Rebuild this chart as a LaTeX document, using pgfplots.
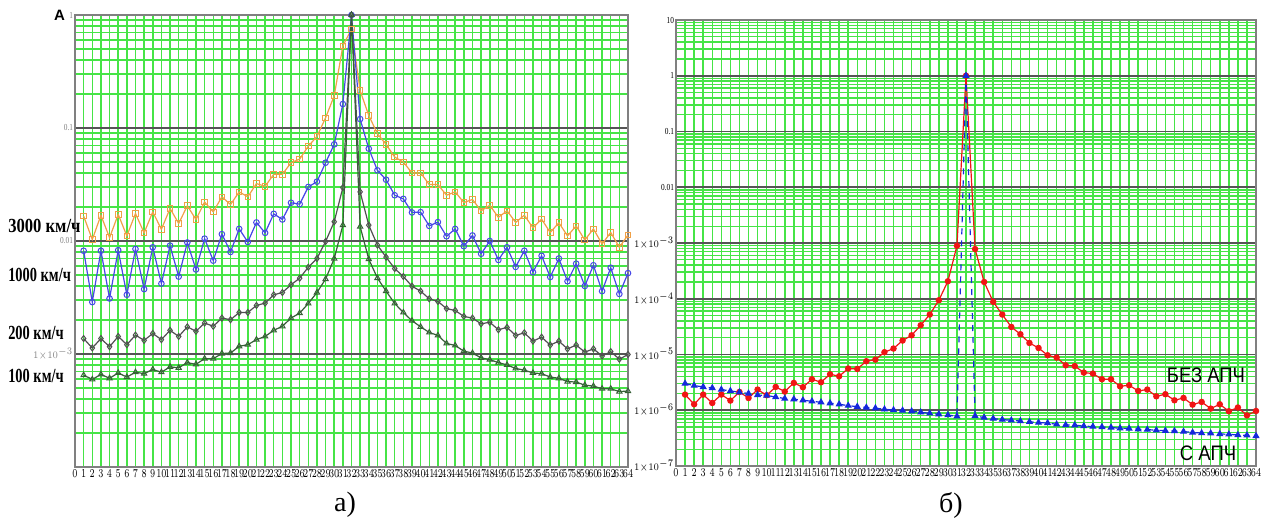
\documentclass[border=0pt]{standalone}
\usepackage{fontspec}
\setmainfont{Liberation Serif}
\newfontfamily\sansf{Liberation Sans}
\usepackage{pgfplots}
\pgfplotsset{compat=1.18}
\definecolor{gridgreen}{RGB}{70,228,70}
\definecolor{majgray}{RGB}{85,85,85}
\definecolor{orangeS}{RGB}{240,160,70}
\definecolor{blueS}{RGB}{70,70,230}
\definecolor{grayS}{RGB}{80,80,80}
\definecolor{greenS}{RGB}{55,95,55}
\definecolor{redS}{RGB}{240,20,20}
\definecolor{blueT}{RGB}{20,40,220}
\begin{document}
\begin{tikzpicture}
\useasboundingbox (0,0) rectangle (633.5pt,262pt);
% ---------- left chart ----------
\begin{axis}[
  scale only axis,
  ymode=log,
  xmin=0, xmax=64,
  xtick={0,...,64},
  grid=both,
  major x grid style={gridgreen, line width=0.75pt},
  minor y grid style={gridgreen, line width=0.7pt},
  major y grid style={majgray, line width=0.9pt},
  axis line style={gray, line width=0.6pt},
  tick style={draw=none},
  x tick label style={font=\fontsize{5.6}{6}\selectfont, xscale=0.7, inner sep=1pt},
  y tick label style={font=\fontsize{4.6}{5}\selectfont, xscale=0.8, inner sep=1pt, text=gray},
  at={(37.5pt,28.5pt)}, anchor=south west,
  width=276.5pt, height=226pt,
  ymin=1e-4, ymax=1,
  ytick={1e-4,1e-3,1e-2,1e-1,1},
  yticklabels={{},{$1{\times}10^{-3}$},{0.01},{0.1},{1}},
]
\addplot[orangeS, line width=0.6pt, mark=square, mark size=1.4pt, mark options={solid, line width=0.5pt}] coordinates {
(1,0.0166)(2,0.0103)(3,0.0169)(4,0.0107)(5,0.0172)(6,0.0111)(7,0.0175)(8,0.0118)(9,0.0181)(10,0.0127)
(11,0.0194)(12,0.0143)(13,0.0205)(14,0.0155)(15,0.0221)(16,0.0181)(17,0.0246)(18,0.0210)(19,0.0272)(20,0.0246)
(21,0.0322)(22,0.0305)(23,0.0389)(24,0.0389)(25,0.0493)(26,0.0531)(27,0.0691)(28,0.0841)(29,0.123)(30,0.193)
(31,0.533)(32,0.75)(33,0.214)(34,0.129)(35,0.089)(36,0.0716)(37,0.0553)(38,0.050)(39,0.040)(40,0.040)
(41,0.0316)(42,0.0316)(43,0.0254)(44,0.0272)(45,0.0219)(46,0.0233)(47,0.0185)(48,0.0207)(49,0.0162)(50,0.0185)
(51,0.0146)(52,0.0169)(53,0.0131)(54,0.0156)(55,0.0119)(56,0.0145)(57,0.0111)(58,0.0136)(59,0.0102)(60,0.0128)
(61,0.0094)(62,0.0119)(63,0.0088)(64,0.0113)};
\addplot[blueS, line width=0.6pt, mark=o, mark size=1.4pt, mark options={solid, line width=0.5pt}] coordinates {
(1,0.0082)(2,0.00288)(3,0.0082)(4,0.0031)(5,0.0083)(6,0.00334)(7,0.0085)(8,0.00375)(9,0.0088)(10,0.0042)
(11,0.0091)(12,0.00484)(13,0.0097)(14,0.0056)(15,0.0105)(16,0.0067)(17,0.0115)(18,0.0080)(19,0.0128)(20,0.0098)
(21,0.0146)(22,0.0118)(23,0.0174)(24,0.0155)(25,0.0218)(26,0.0212)(27,0.0301)(28,0.0335)(29,0.0493)(30,0.0716)
(31,0.163)(32,1)(33,0.120)(34,0.0656)(35,0.0422)(36,0.0349)(37,0.0254)(38,0.0236)(39,0.0179)(40,0.0180)
(41,0.0136)(42,0.0147)(43,0.0110)(44,0.0128)(45,0.0090)(46,0.0112)(47,0.0077)(48,0.0100)(49,0.0068)(50,0.0088)
(51,0.0059)(52,0.0082)(53,0.0053)(54,0.0074)(55,0.0048)(56,0.0070)(57,0.0044)(58,0.0063)(59,0.0040)(60,0.0061)
(61,0.0036)(62,0.0058)(63,0.0034)(64,0.0052)};
\addplot[grayS, line width=0.6pt, mark=diamond, mark size=1.5pt, mark options={solid, line width=0.5pt}] coordinates {
(1,1.37e-3)(2,1.13e-3)(3,1.37e-3)(4,1.16e-3)(5,1.43e-3)(6,1.21e-3)(7,1.47e-3)(8,1.32e-3)(9,1.52e-3)(10,1.34e-3)
(11,1.62e-3)(12,1.43e-3)(13,1.74e-3)(14,1.59e-3)(15,1.88e-3)(16,1.76e-3)(17,2.08e-3)(18,2.01e-3)(19,2.33e-3)(20,2.33e-3)
(21,2.69e-3)(22,2.82e-3)(23,3.34e-3)(24,3.50e-3)(25,4.10e-3)(26,4.69e-3)(27,5.86e-3)(28,7.0e-3)(29,9.9e-3)(30,0.0148)
(31,0.0297)(32,1)(33,0.0272)(34,0.0138)(35,9.2e-3)(36,7.2e-3)(37,5.7e-3)(38,4.85e-3)(39,3.98e-3)(40,3.6e-3)
(41,3.08e-3)(42,2.92e-3)(43,2.52e-3)(44,2.43e-3)(45,2.15e-3)(46,2.08e-3)(47,1.85e-3)(48,1.91e-3)(49,1.64e-3)(50,1.72e-3)
(51,1.46e-3)(52,1.54e-3)(53,1.30e-3)(54,1.41e-3)(55,1.20e-3)(56,1.30e-3)(57,1.11e-3)(58,1.20e-3)(59,1.04e-3)(60,1.11e-3)
(61,0.96e-3)(62,1.05e-3)(63,0.90e-3)(64,0.99e-3)};
\addplot[greenS, line width=0.6pt, mark=triangle, mark size=1.5pt, mark options={solid, line width=0.5pt}] coordinates {
(1,6.5e-4)(2,5.96e-4)(3,6.6e-4)(4,6.1e-4)(5,6.8e-4)(6,6.25e-4)(7,6.9e-4)(8,6.7e-4)(9,7.3e-4)(10,6.9e-4)
(11,7.7e-4)(12,7.55e-4)(13,8.4e-4)(14,8.1e-4)(15,9.1e-4)(16,9.1e-4)(17,1.01e-3)(18,1.02e-3)(19,1.17e-3)(20,1.21e-3)
(21,1.34e-3)(22,1.43e-3)(23,1.62e-3)(24,1.76e-3)(25,2.08e-3)(26,2.3e-3)(27,2.8e-3)(28,3.5e-3)(29,4.6e-3)(30,7.0e-3)
(31,0.0138)(32,1)(33,0.0134)(34,6.9e-3)(35,4.7e-3)(36,3.6e-3)(37,2.8e-3)(38,2.33e-3)(39,1.97e-3)(40,1.74e-3)
(41,1.55e-3)(42,1.46e-3)(43,1.24e-3)(44,1.19e-3)(45,1.06e-3)(46,1.02e-3)(47,9.25e-4)(48,8.9e-4)(49,8.4e-4)(50,8.0e-4)
(51,7.45e-4)(52,7.2e-4)(53,6.8e-4)(54,6.7e-4)(55,6.25e-4)(56,6.1e-4)(57,5.7e-4)(58,5.65e-4)(59,5.3e-4)(60,5.2e-4)
(61,4.93e-4)(62,4.93e-4)(63,4.65e-4)(64,4.7e-4)};
\end{axis}
% ---------- right chart ----------
\begin{axis}[
  scale only axis,
  ymode=log,
  xmin=0, xmax=64,
  xtick={0,...,64},
  grid=both,
  major x grid style={gridgreen, line width=0.75pt},
  minor y grid style={gridgreen, line width=0.7pt},
  major y grid style={majgray, line width=0.9pt},
  axis line style={gray, line width=0.6pt},
  tick style={draw=none},
  x tick label style={font=\fontsize{5.6}{6}\selectfont, xscale=0.7, inner sep=1pt},
  y tick label style={font=\fontsize{4.6}{5}\selectfont, xscale=0.8, inner sep=1pt},
  at={(338pt,29pt)}, anchor=south west,
  width=290pt, height=223pt,
  ymin=1e-7, ymax=10,
  ytick={1e-7,1e-6,1e-5,1e-4,1e-3,1e-2,1e-1,1,10},
  yticklabels={{$1{\times}10^{-7}$},{$1{\times}10^{-6}$},{$1{\times}10^{-5}$},{$1{\times}10^{-4}$},{$1{\times}10^{-3}$},{0.01},{0.1},{1},{10}},
]
\addplot[redS, line width=0.6pt, mark=*, mark size=1.3pt, mark options={solid}] coordinates {
(1,1.91e-6)(2,1.28e-6)(3,1.91e-6)(4,1.35e-6)(5,1.91e-6)(6,1.49e-6)(7,2.13e-6)(8,1.66e-6)(9,2.35e-6)(10,1.86e-6)
(11,2.62e-6)(12,2.16e-6)(13,3.09e-6)(14,2.59e-6)(15,3.60e-6)(16,3.18e-6)(17,4.43e-6)(18,4.07e-6)(19,5.60e-6)(20,5.51e-6)
(21,7.57e-6)(22,8.11e-6)(23,1.10e-5)(24,1.28e-5)(25,1.78e-5)(26,2.21e-5)(27,3.35e-5)(28,5.21e-5)(29,9.40e-5)(30,2.06e-4)
(31,8.9e-4)(32,1)(33,7.8e-4)(34,2.0e-4)(35,8.8e-5)(36,5.2e-5)(37,3.12e-5)(38,2.31e-5)(39,1.61e-5)(40,1.31e-5)
(41,9.7e-6)(42,8.8e-6)(43,6.4e-6)(44,6.2e-6)(45,4.74e-6)(46,4.55e-6)(47,3.60e-6)(48,3.60e-6)(49,2.69e-6)(50,2.81e-6)
(51,2.22e-6)(52,2.35e-6)(53,1.78e-6)(54,1.94e-6)(55,1.51e-6)(56,1.66e-6)(57,1.26e-6)(58,1.41e-6)(59,1.07e-6)(60,1.28e-6)
(61,9.6e-7)(62,1.12e-6)(63,8.1e-7)(64,9.7e-7)};
\addplot[blueT, line width=0.6pt, dashed, mark=triangle*, mark size=1.5pt, mark options={solid}] coordinates {
(1,3.01e-6)(2,2.77e-6)(3,2.62e-6)(4,2.51e-6)(5,2.35e-6)(6,2.22e-6)(7,2.10e-6)(8,2.0e-6)(9,1.88e-6)(10,1.84e-6)
(11,1.73e-6)(12,1.62e-6)(13,1.58e-6)(14,1.51e-6)(15,1.45e-6)(16,1.39e-6)(17,1.34e-6)(18,1.28e-6)(19,1.21e-6)(20,1.16e-6)
(21,1.12e-6)(22,1.09e-6)(23,1.04e-6)(24,1.01e-6)(25,0.99e-6)(26,9.6e-7)(27,9.2e-7)(28,8.8e-7)(29,8.5e-7)(30,8.2e-7)
(31,7.8e-7)(32,1)(33,7.9e-7)(34,7.4e-7)(35,7.1e-7)(36,6.8e-7)(37,6.6e-7)(38,6.4e-7)(39,6.2e-7)(40,6.0e-7)
(41,5.9e-7)(42,5.6e-7)(43,5.45e-7)(44,5.4e-7)(45,5.2e-7)(46,5.1e-7)(47,5.0e-7)(48,4.9e-7)(49,4.76e-7)(50,4.7e-7)
(51,4.56e-7)(52,4.5e-7)(53,4.38e-7)(54,4.3e-7)(55,4.25e-7)(56,4.15e-7)(57,4.0e-7)(58,3.9e-7)(59,3.87e-7)(60,3.76e-7)
(61,3.7e-7)(62,3.6e-7)(63,3.56e-7)(64,3.46e-7)};
\end{axis}
% ---------- labels ----------
\node[font=\sansf\bfseries\fontsize{7.5}{8}\selectfont, inner sep=0pt] at (29.8pt,254.5pt) {A};
\node[anchor=west, font=\bfseries\fontsize{10}{11}\selectfont, xscale=0.83, inner sep=0pt] at (4pt,149pt) {3000 км/ч};
\node[anchor=west, font=\bfseries\fontsize{10}{11}\selectfont, xscale=0.72, inner sep=0pt] at (4pt,124.5pt) {1000 км/ч};
\node[anchor=west, font=\bfseries\fontsize{10}{11}\selectfont, xscale=0.72, inner sep=0pt] at (4pt,95.5pt) {200 км/ч};
\node[anchor=west, font=\bfseries\fontsize{10}{11}\selectfont, xscale=0.72, inner sep=0pt] at (4pt,74pt) {100 км/ч};
\node[font=\sansf\fontsize{10.5}{12}\selectfont, xscale=0.88] at (603pt,74.5pt) {БЕЗ АПЧ};
\node[font=\sansf\fontsize{10.5}{12}\selectfont, xscale=0.88] at (604pt,35.5pt) {С АПЧ};
\node[font=\fontsize{14}{16}\selectfont] at (172.5pt,9.5pt) {а)};
\node[font=\fontsize{14}{16}\selectfont] at (475.5pt,9.5pt) {б)};
\end{tikzpicture}
\end{document}
